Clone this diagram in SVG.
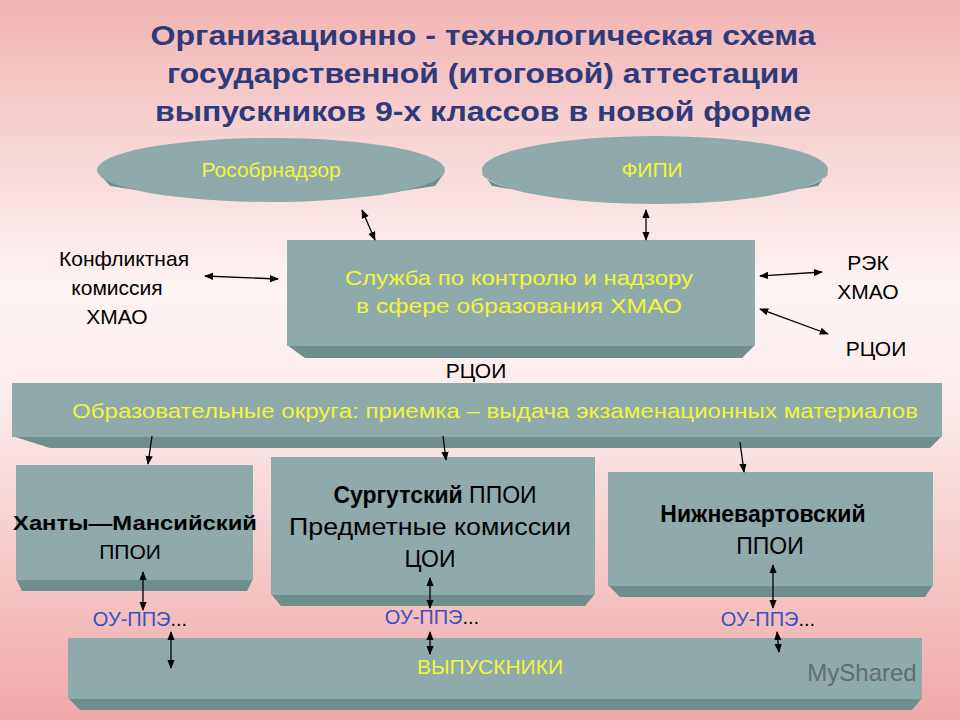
<svg xmlns="http://www.w3.org/2000/svg" width="960" height="720" viewBox="0 0 960 720">
<defs>
<linearGradient id="bg" x1="0" y1="0" x2="0" y2="1">
<stop offset="0" stop-color="#f2b4b4"/><stop offset="0.4" stop-color="#fdf4f4"/><stop offset="0.55" stop-color="#fcecec"/><stop offset="1" stop-color="#f0a8a8"/>
</linearGradient>
<marker id="a" viewBox="0 0 10 10" refX="9" refY="5" markerWidth="7" markerHeight="7" orient="auto-start-reverse"><path d="M0,1 L10,5 L0,9 z" fill="#000"/></marker>
<style>
.box{fill:#8eaaaa}
.bev{fill:#6f8e8e}
.y{fill:#f4f43c;font-family:"Liberation Sans",Arial,sans-serif;font-size:21px;text-anchor:middle}
.k{fill:#000;font-family:"Liberation Sans",Arial,sans-serif;font-size:21px;text-anchor:middle}
.kb{fill:#000;font-family:"Liberation Sans",Arial,sans-serif;font-size:23px;text-anchor:middle}
.b{fill:#3a4fc0;font-family:"Liberation Sans",Arial,sans-serif;font-size:20px;text-anchor:middle}
.c line{stroke:#000;stroke-width:1.3;marker-start:url(#a);marker-end:url(#a)}
.c line.one{marker-start:none}
</style>
</defs>
<rect width="960" height="720" fill="url(#bg)"/>
<g id="title" font-family="Liberation Sans,Arial,sans-serif" font-size="28" font-weight="bold" fill="#2e3a7a" text-anchor="middle">
<text x="483" y="45" textLength="665" lengthAdjust="spacingAndGlyphs">Организационно - технологическая схема</text>
<text x="483" y="83" textLength="632" lengthAdjust="spacingAndGlyphs">государственной (итоговой) аттестации</text>
<text x="483" y="121" textLength="656" lengthAdjust="spacingAndGlyphs">выпускников 9-х классов в новой форме</text>
</g>
<g id="rosobr">
<path class="bev" d="M98,172 A175,30 0 0 0 445,172 L435,186 Q270,214 110,186 z"/>
<ellipse class="box" cx="271" cy="170" rx="174" ry="32"/>
<text class="y" x="271" y="177">Рособрнадзор</text>
</g>
<g id="fipi">
<path class="bev" d="M482,172 A173,30 0 0 0 828,172 L818,186 Q655,214 492,186 z"/>
<ellipse class="box" cx="655" cy="170" rx="173" ry="34"/>
<text class="y" x="652" y="177">ФИПИ</text>
</g>
<g id="service">
<path class="bev" d="M287,345 L755,345 L742,358 L305,358 z"/>
<rect class="box" x="287" y="240" width="468" height="106"/>
<text class="y" x="519" y="285" textLength="348" lengthAdjust="spacingAndGlyphs">Служба по контролю и надзору</text>
<text class="y" x="519" y="313" textLength="326" lengthAdjust="spacingAndGlyphs">в сфере образования  ХМАО</text>
</g>
<g id="conflict"><text class="k" x="124" y="266">Конфликтная</text><text class="k" x="117" y="295">комиссия</text><text class="k" x="117" y="324">ХМАО</text></g>
<g id="rek"><text class="k" x="868" y="270">РЭК</text><text class="k" x="868" y="299">ХМАО</text></g>
<g id="rcoi1"><text class="k" x="876" y="356">РЦОИ</text></g>
<g id="rcoi2"><text class="k" x="476" y="378">РЦОИ</text></g>
<g id="okruga">
<path class="bev" d="M12,436 L942,436 L930,448 L50,448 z"/>
<rect class="box" x="12" y="383" width="930" height="54"/>
<text class="y" x="495" y="418" textLength="846" lengthAdjust="spacingAndGlyphs">Образовательные округа:  приемка – выдача экзаменационных материалов</text>
</g>
<g id="khanty">
<path class="bev" d="M16,579 L253,579 L247,591 L22,591 z"/>
<rect class="box" x="16" y="465" width="237" height="115"/>
<text x="135" y="530" font-family="Liberation Sans,Arial,sans-serif" font-size="20" font-weight="bold" text-anchor="middle" textLength="244" lengthAdjust="spacingAndGlyphs">Ханты—Мансийский</text>
<text class="k" x="130" y="559">ППОИ</text>
</g>
<g id="surgut">
<path class="bev" d="M271,594 L595,594 L585,606 L281,606 z"/>
<rect class="box" x="271" y="457" width="324" height="138"/>
<text class="kb" x="435" y="503"><tspan font-weight="bold">Сургутский</tspan> ППОИ</text>
<text class="kb" x="430" y="535" textLength="282" lengthAdjust="spacingAndGlyphs">Предметные комиссии</text>
<text class="kb" x="430" y="567">ЦОИ</text>
</g>
<g id="nizhnevartovsk">
<path class="bev" d="M608,585 L933,585 L925,597 L620,597 z"/>
<rect class="box" x="608" y="472" width="325" height="114"/>
<text class="kb" x="763" y="522" font-weight="bold">Нижневартовский</text>
<text class="kb" x="770" y="554">ППОИ</text>
</g>
<g id="ou"><text class="b" x="140" y="626">ОУ-ППЭ<tspan fill="#000">...</tspan></text><text class="b" x="432" y="624">ОУ-ППЭ<tspan fill="#000">...</tspan></text><text class="b" x="768" y="626">ОУ-ППЭ<tspan fill="#000">...</tspan></text></g>
<g id="graduates">
<path class="bev" d="M68,698 L922,698 L912,710 L80,710 z"/>
<rect class="box" x="68" y="638" width="854" height="61"/>
<text class="y" x="490" y="674">ВЫПУСКНИКИ</text>
<text x="862" y="681" font-family="Liberation Sans,Arial,sans-serif" font-size="24" fill="#5f6f6f" text-anchor="middle">MyShared</text>
</g>
<g class="c" id="connectors">
<line x1="362" y1="210" x2="375" y2="240"/>
<line x1="646" y1="210" x2="646" y2="240"/>
<line x1="205" y1="276" x2="278" y2="279"/>
<line x1="760" y1="276" x2="822" y2="272"/>
<line x1="760" y1="309" x2="828" y2="334"/>
<line class="one" x1="152" y1="436" x2="148" y2="464"/>
<line class="one" x1="443" y1="436" x2="446" y2="460"/>
<line class="one" x1="740" y1="442" x2="744" y2="472"/>
<line x1="143" y1="572" x2="143" y2="610"/>
<line x1="430" y1="578" x2="430" y2="608"/>
<line x1="773" y1="565" x2="773" y2="608"/>
<line x1="171" y1="632" x2="171" y2="668"/>
<line x1="430" y1="632" x2="430" y2="654"/>
<line x1="777" y1="632" x2="779" y2="652"/>
</g>
</svg>
